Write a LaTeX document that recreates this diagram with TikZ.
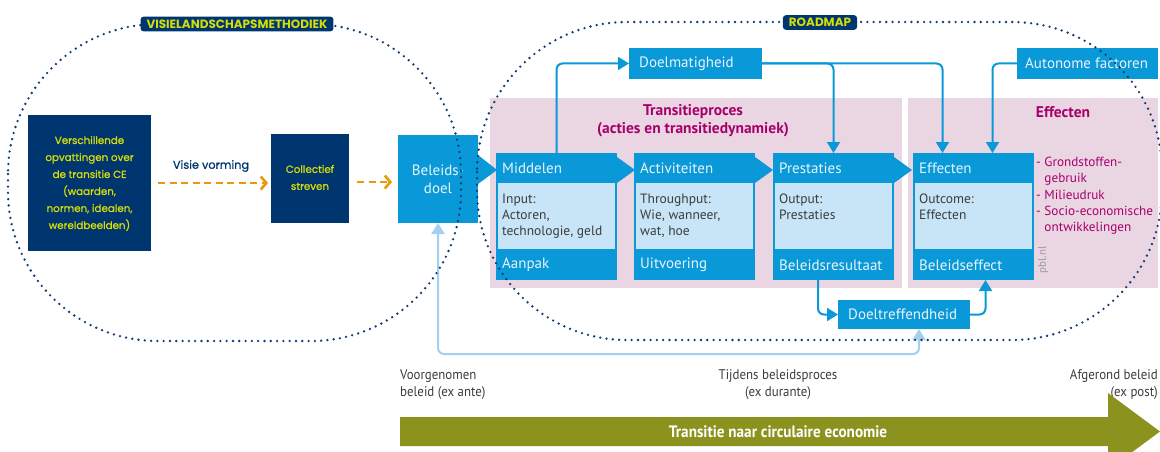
\documentclass[tikz,border=0pt]{standalone}
\usepackage{fontspec}
\setmainfont{PT Sans}
\newfontfamily\geo[FakeBold=1]{Poppins}
\newfontfamily\geob{Poppins}
\newfontfamily\cond[FakeStretch=0.92]{PT Sans}
\usetikzlibrary{arrows.meta}
\definecolor{navy}{HTML}{00366F}
\definecolor{dotnavy}{HTML}{0E3B74}
\definecolor{yel}{HTML}{D5DC0A}
\definecolor{pblue}{HTML}{0A99D8}
\definecolor{lbody}{HTML}{C7E5F7}
\definecolor{htext}{HTML}{E8F4FB}
\definecolor{lline}{HTML}{A3D0F0}
\definecolor{pinkbg}{HTML}{EAD6E3}
\definecolor{mag}{HTML}{A8006B}
\definecolor{orng}{HTML}{E69A0C}
\definecolor{olv}{HTML}{8B931E}
\definecolor{gtext}{HTML}{3C3C3C}
\definecolor{pblgray}{HTML}{9A9A9A}
\tikzset{
  bx/.style={rectangle, inner sep=0pt, outer sep=0pt, anchor=north west},
  navybox/.style={bx, fill=navy},
  bluebox/.style={bx, fill=pblue},
  pinkbox/.style={bx, fill=pinkbg},
  hdr/.style={inner sep=0pt, anchor=west, text=htext, font=\fontsize{15}{17}\selectfont},
  bodytxt/.style={inner sep=0pt, anchor=north west, align=left, text=gtext, font=\fontsize{13.5}{16}\selectfont},
  yeltxt/.style={inner sep=0pt, align=center, text=yel, font=\geo\fontsize{10.3}{17}\selectfont},
  conn/.style={draw=pblue, line width=2pt, rounded corners=6pt, -{Triangle[width=13pt,length=11pt]}},
  lconn/.style={draw=lline, line width=2pt, rounded corners=6pt, {Triangle[width=13pt,length=11pt]}-{Triangle[width=13pt,length=11pt]}},
  orarrow/.style={draw=orng, line width=2.4pt, dash pattern=on 7pt off 4.5pt, -{Straight Barb[length=5.5pt,width=13pt,line width=2.6pt]}},
  dotline/.style={draw=dotnavy, line width=2.6pt, line cap=round, dash pattern=on 0pt off 6.3pt},
  tag/.style={fill=navy, rounded corners=3pt, text=yel, inner xsep=6pt, inner ysep=3pt, font=\geob\bfseries\fontsize{12}{13}\selectfont},
  ttitle/.style={inner sep=0pt, align=center, text=mag, font=\bfseries\fontsize{15.5}{18}\selectfont},
  timetxt/.style={inner sep=0pt, text=gtext, font=\cond\fontsize{14}{17}\selectfont}
}
\begin{document}
\begin{tikzpicture}[x=1pt,y=-1pt]
\useasboundingbox (0,0) rectangle (1160,452);

% pink regions
\node[pinkbox, minimum width=412, minimum height=190] (pinkT) at (490,98) {};
\node[pinkbox, minimum width=250, minimum height=190] (pinkE) at (908,98) {};
\node[ttitle] (titT) at (693,121) {Transitieproces\\(acties en transitiedynamiek)};
\node[ttitle] (titE) at (1063,112) {Effecten};

% left navy boxes
\node[navybox, minimum width=123, minimum height=136] (vers) at (28,115) {};
\node[yeltxt] (verst) at ([yshift=-0.5]vers.center) {Verschillende\\opvattingen over\\de transitie CE\\(waarden,\\normen, idealen,\\wereldbeelden)};
\node[navybox, minimum width=78, minimum height=89] (coll) at (271,134) {};
\node[yeltxt] (collt) at ([yshift=1]coll.center) {Collectief\\streven};
\node[inner sep=0pt, text=navy, font=\geo\fontsize{11.3}{12}\selectfont] (visie) at (211,166) {Visie vorming};
\draw[orarrow, shorten >=3pt] ([xshift=7]vers.east) -- (vers.east -| coll.west);
\draw[orarrow, shorten >=3pt] ([xshift=8,yshift=-3.5]coll.east) -- ([xshift=-3,yshift=-3.5]coll.east -| 398,0);

% Beleidsdoel
\node[bluebox, minimum width=80, minimum height=88] (bel) at (398,135) {};
\node[inner sep=0pt, align=center, text=htext, font=\fontsize{15}{18}\selectfont] (belt) at ([xshift=0,yshift=0]bel.center) {Beleids-\\doel};
\fill[pblue] ([yshift=-20]bel.north east) -- ([xshift=19,yshift=-35]bel.north east) -- ([yshift=-49]bel.north east) -- cycle;

% process boxes
\foreach \nm/\x/\h/\b/\f in {mid/496/Middelen/{Input:\\Actoren,\\technologie, geld}/Aanpak,
                           act/634/Activiteiten/{Throughput:\\Wie, wanneer,\\wat, hoe}/Uitvoering,
                           prest/773/Prestaties/{Output:\\Prestaties}/Beleidsresultaat,
                           eff/913/Effecten/{Outcome:\\Effecten}/Beleidseffect}{
  \node[bluebox, minimum width=121, minimum height=127] (\nm) at (\x,153) {};
  \fill[lbody] ([xshift=2,yshift=-30]\nm.north west) rectangle ([xshift=-2,yshift=31]\nm.south east);
  \node[hdr] (\nm h) at ([xshift=6,yshift=-15.5]\nm.north west) {\h};
  \node[bodytxt] (\nm b) at ([xshift=6,yshift=-40.5]\nm.north west) {\b};
  \node[hdr] (\nm f) at ([xshift=6,yshift=15]\nm.south west) {\f};
}
\foreach \a in {mid,act,prest}{
  \fill[pblue] ([yshift=-4]\a.north east) -- ([xshift=18,yshift=-17]\a.north east) -- ([yshift=-30]\a.north east) -- cycle;
}

% effect list
\node[inner sep=0pt, anchor=north west, align=left, text=mag, font=\fontsize{13.2}{16.3}\selectfont] (efl) at (1036,157)
 {- Grondstoffen-\\\hphantom{- }gebruik\\- Milieudruk\\- Socio-economische\\\hphantom{- }ontwikkelingen};
\node[inner sep=0pt, rotate=90, text=pblgray, font=\fontsize{11}{12}\selectfont] (pbl) at (1043,260) {pbl.nl};

% top / bottom boxes
\node[bluebox, minimum width=133, minimum height=31] (doelm) at (629,48) {};
\node[hdr] (doelmt) at ([xshift=10]doelm.west) {Doelmatigheid};
\node[bluebox, minimum width=141, minimum height=31] (auto) at (1017,48) {};
\node[hdr] (autot) at ([xshift=8]auto.west) {Autonome factoren};
\node[bluebox, minimum width=132, minimum height=29] (doeltr) at (838,300) {};
\node[hdr] (doeltrt) at ([xshift=10]doeltr.west) {Doeltreffendheid};

% connectors
\draw[conn] (mid.north) |- (doelm.west);
\draw[conn] (doelm.east) -| (prest.north);
\draw[conn] (doelm.east) -| ([xshift=-31]eff.north);
\draw[conn] (auto.west) -| ([xshift=19]eff.north);
\draw[conn] ([xshift=-15.5]prest.south) |- (doeltr.west);
\draw[conn] (doeltr.east) -| ([xshift=12]eff.south);
\draw[lconn] ([xshift=15]doeltr.south) -- ++(0,25) -| (bel.south);

% dotted regions
\draw[dotline, rounded corners=150pt] (8,24) rectangle (461,341);
\draw[dotline, rounded corners=150pt] (477,22) rectangle (1162,340);
\node[tag] (tagV) at (237,24) {VISIELANDSCHAPSMETHODIEK};
\node[tag] (tagR) at (820,22.5) {ROADMAP};

% timeline
\node[timetxt, anchor=north west, align=left] (t1) at (400,369) {Voorgenomen\\beleid (ex ante)};
\node[timetxt, anchor=north, align=center] (t2) at (778,369) {Tijdens beleidsproces\\(ex durante)};
\node[timetxt, anchor=north east, align=right] (t3) at (1158,369) {Afgerond beleid\\(ex post)};
\fill[olv] (400,417) -- (1108,417) -- (1108,393) -- (1160,431.5) -- (1108,470) -- (1108,446) -- (400,446) -- cycle;
\node[inner sep=0pt, text=white, font=\cond\bfseries\fontsize{16.5}{18}\selectfont] (tl) at (778,431.5) {Transitie naar circulaire economie};
\end{tikzpicture}
\end{document}
